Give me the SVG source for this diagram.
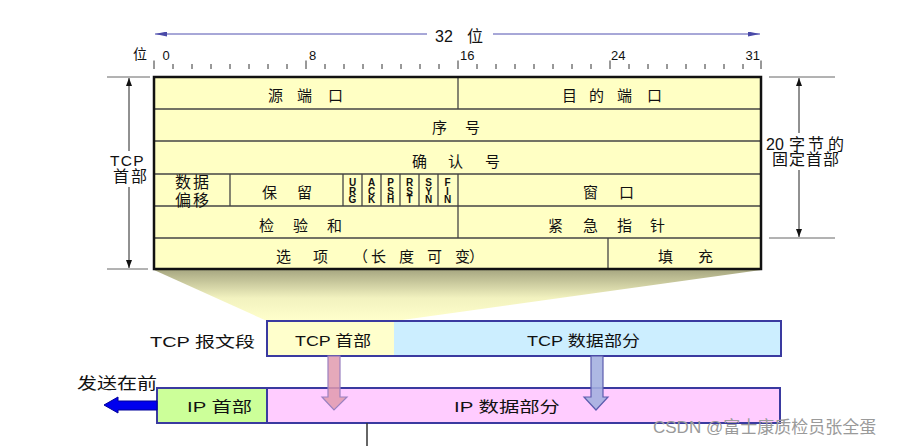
<svg xmlns="http://www.w3.org/2000/svg" width="919" height="446" viewBox="0 0 919 446">
<style>
  .t{font-family:"Liberation Sans","Noto Sans CJK SC",sans-serif;fill:#111}
  .cj{font-family:"Noto Sans CJK SC","Liberation Sans",sans-serif;fill:#111}
  .f15{font-size:15px}
  .f16{font-size:16px}
  .flag{font-family:"Liberation Sans",sans-serif;font-weight:bold;font-size:10px;fill:#111;writing-mode:vertical-rl;text-orientation:upright;letter-spacing:-2.5px}
  .grid{stroke:#444;stroke-width:1.3;fill:none}
  .tick{stroke:#333;stroke-width:1}
  .dim{stroke:#222;stroke-width:1;fill:none}
  .ext{stroke:#666;stroke-width:1}
  .bits{stroke:#5050b0;stroke-width:1;fill:none}
  .bar{stroke:#3a3aa0;stroke-width:2}
</style>
<defs>
  <marker id="ah" viewBox="0 0 8 6" refX="8" refY="3" markerWidth="8" markerHeight="6" markerUnits="userSpaceOnUse" orient="auto"><path d="M0,0 L8,3 L0,6 z" fill="#111"/></marker>
  <marker id="ahb" viewBox="0 0 12 5" refX="12" refY="2.5" markerWidth="12" markerHeight="5" markerUnits="userSpaceOnUse" orient="auto"><path d="M0,0 L12,2.5 L0,5 z" fill="#4a4aa8"/></marker>
  <linearGradient id="fan" x1="0" y1="0" x2="0" y2="1">
    <stop offset="0" stop-color="#a8a882"/>
    <stop offset="0.55" stop-color="#f2f2bf"/>
    <stop offset="1" stop-color="#ffffcc"/>
  </linearGradient>
</defs>

<!-- bit ruler -->
<g id="ruler">
  <line class="bits" x1="427" y1="34" x2="155" y2="34" marker-end="url(#ahb)"/>
  <line class="bits" x1="493" y1="34" x2="760" y2="34" marker-end="url(#ahb)"/>
  <text class="t f16" y="42" x="435 444 453 467">32 位</text>
  <text class="cj" font-size="14" x="133" y="58.5">位</text>
  <g class="tick">
    <line x1="154" y1="60.5" x2="154" y2="69"/><line x1="173" y1="64" x2="173" y2="69"/><line x1="192" y1="64" x2="192" y2="69"/><line x1="211" y1="64" x2="211" y2="69"/>
    <line x1="230" y1="64" x2="230" y2="69"/><line x1="249" y1="64" x2="249" y2="69"/><line x1="268" y1="64" x2="268" y2="69"/><line x1="287" y1="64" x2="287" y2="69"/>
    <line x1="306" y1="60.5" x2="306" y2="69"/><line x1="325" y1="64" x2="325" y2="69"/><line x1="344" y1="64" x2="344" y2="69"/><line x1="363" y1="64" x2="363" y2="69"/>
    <line x1="382" y1="64" x2="382" y2="69"/><line x1="401" y1="64" x2="401" y2="69"/><line x1="420" y1="64" x2="420" y2="69"/><line x1="439" y1="64" x2="439" y2="69"/>
    <line x1="458" y1="60.5" x2="458" y2="69"/><line x1="477" y1="64" x2="477" y2="69"/><line x1="496" y1="64" x2="496" y2="69"/><line x1="515" y1="64" x2="515" y2="69"/>
    <line x1="534" y1="64" x2="534" y2="69"/><line x1="553" y1="64" x2="553" y2="69"/><line x1="572" y1="64" x2="572" y2="69"/><line x1="591" y1="64" x2="591" y2="69"/>
    <line x1="610" y1="60.5" x2="610" y2="69"/><line x1="629" y1="64" x2="629" y2="69"/><line x1="648" y1="64" x2="648" y2="69"/><line x1="667" y1="64" x2="667" y2="69"/>
    <line x1="686" y1="64" x2="686" y2="69"/><line x1="705" y1="64" x2="705" y2="69"/><line x1="724" y1="64" x2="724" y2="69"/><line x1="743" y1="64" x2="743" y2="69"/>
    <line x1="761" y1="60.5" x2="761" y2="69"/>
  </g>
  <g class="t" font-size="13">
    <text x="162.5" y="59.5">0</text>
    <text x="309" y="59.5">8</text>
    <text x="460" y="59.5">16</text>
    <text x="611" y="59.5">24</text>
    <text x="745.5" y="59.5">31</text>
  </g>
</g>

<!-- fan -->
<polygon id="fan-shape" points="154,270 761,270 395,321 267,321" fill="url(#fan)"/>

<!-- TCP header table -->
<g id="tcp-header">
  <rect x="154" y="77" width="607" height="192" fill="#ffffc4"/>
  <g class="grid">
    <line x1="154" y1="109" x2="761" y2="109"/>
    <line x1="154" y1="141" x2="761" y2="141"/>
    <line x1="154" y1="174" x2="761" y2="174"/>
    <line x1="154" y1="206" x2="761" y2="206"/>
    <line x1="154" y1="238" x2="761" y2="238"/>
    <line x1="458" y1="77" x2="458" y2="109"/>
    <line x1="230" y1="174" x2="230" y2="206"/>
    <line x1="343" y1="174" x2="343" y2="206"/>
    <line x1="362" y1="174" x2="362" y2="206"/>
    <line x1="381" y1="174" x2="381" y2="206"/>
    <line x1="400" y1="174" x2="400" y2="206"/>
    <line x1="419" y1="174" x2="419" y2="206"/>
    <line x1="438" y1="174" x2="438" y2="206"/>
    <line x1="458" y1="174" x2="458" y2="238"/>
    <line x1="608" y1="238" x2="608" y2="269"/>
  </g>
  <rect x="154" y="77" width="607" height="192" fill="none" stroke="#111" stroke-width="2.5"/>
  <g id="f-srcport"><text class="cj f15" y="100.7" x="268 283 297 312 328">源 端 口</text></g>
  <g id="f-dstport"><text class="cj f15" y="100.7" x="562 576 589 603 617 632 647">目 的 端 口</text></g>
  <g id="f-seq"><text class="cj f15" y="132.7" x="432 448 465">序 号</text></g>
  <g id="f-ack"><text class="cj f15" y="166.7" x="412 430 448 466 485">确 认 号</text></g>
  <g id="f-offset">
    <text class="cj f16"><tspan y="188" x="175 193">数据</tspan><tspan y="205.5" x="175 193">偏移</tspan></text>
  </g>
  <g id="f-reserved"><text class="cj f15" y="197.7" x="262 280 297">保 留</text></g>
  <g id="f-flags">
    <text class="flag" x="352.5" y="177">URG</text>
    <text class="flag" x="371.5" y="177">ACK</text>
    <text class="flag" x="390.5" y="177">PSH</text>
    <text class="flag" x="409.5" y="177">RST</text>
    <text class="flag" x="428.5" y="177">SYN</text>
    <text class="flag" x="447.5" y="177">FIN</text>
  </g>
  <g id="f-window"><text class="cj f15" y="197.7" x="583 601 619">窗 口</text></g>
  <g id="f-checksum"><text class="cj f15" y="230.7" x="259 276 293 310 327">检 验 和</text></g>
  <g id="f-urgent"><text class="cj f15" y="230.7" x="548 566 583 600 617 633 650">紧 急 指 针</text></g>
  <g id="f-options"><text class="cj f15" y="261.7" x="276 295 313 335 353 371 385 399 413 427 441 455 469">选 项 （长 度 可 变）</text></g>
  <g id="f-padding"><text class="cj f15" y="261.7" x="658 678 698">填 充</text></g>
</g>

<!-- dimension: TCP header -->
<g id="dim-left">
  <line class="ext" x1="107" y1="77" x2="150" y2="77"/>
  <line class="ext" x1="107" y1="269" x2="148" y2="269"/>
  <line class="dim" x1="129" y1="151" x2="129" y2="78" marker-end="url(#ah)"/>
  <line class="dim" x1="129" y1="187" x2="129" y2="268" marker-end="url(#ah)"/>
  <text class="t"><tspan x="110" y="166" font-size="15.5" letter-spacing="1.3">TCP</tspan><tspan x="113 131" y="182" font-size="16">首部</tspan></text>
</g>

<!-- dimension: 20 bytes -->
<g id="dim-right">
  <line class="ext" x1="769" y1="77" x2="835" y2="77"/>
  <line class="ext" x1="769" y1="238" x2="835" y2="238"/>
  <line class="dim" x1="799" y1="133" x2="799" y2="78" marker-end="url(#ah)"/>
  <line class="dim" x1="799" y1="170" x2="799" y2="237" marker-end="url(#ah)"/>
  <text class="t f16"><tspan y="149.5" x="766 775 784 789 808 828">20 字节的</tspan><tspan y="164.5" x="772 789 806 823">固定首部</tspan></text>
</g>

<!-- TCP segment -->
<g id="tcp-segment">
  <text class="t f15" x="150" y="346.5" textLength="105" lengthAdjust="spacingAndGlyphs">TCP 报文段</text>
  <rect x="267" y="321" width="127" height="35" fill="#ffffcc"/>
  <rect x="394" y="321" width="387" height="35" fill="#cceeff"/>
  <rect x="267" y="321" width="514" height="35" fill="none" class="bar"/>
  <text class="t f15" x="295" y="345.5" textLength="76" lengthAdjust="spacingAndGlyphs">TCP 首部</text>
  <text class="t f15" x="527" y="345.5" textLength="113" lengthAdjust="spacingAndGlyphs">TCP 数据部分</text>
</g>

<!-- IP datagram -->
<g id="ip-datagram">
  <rect x="157" y="388" width="110" height="35" fill="#ccff99"/>
  <rect x="267" y="388" width="513" height="35" fill="#ffccff"/>
  <line x1="267" y1="388" x2="267" y2="423" class="bar"/>
  <rect x="157" y="388" width="623" height="35" fill="none" class="bar"/>
  <text class="t f15" x="187" y="411.5" textLength="65" lengthAdjust="spacingAndGlyphs">IP 首部</text>
  <text class="t f15" x="454" y="411.5" textLength="106" lengthAdjust="spacingAndGlyphs">IP 数据部分</text>
  <text class="cj f16" x="77" y="388.6" textLength="80" lengthAdjust="spacingAndGlyphs">发送在前</text>
</g>

<!-- connectors -->
<g id="connectors">
  <polygon points="328,356 340,356 340,397 347,397 334,410 322,397 328,397" fill="#e09aae" fill-opacity="0.85" stroke="#9a80c0" stroke-width="1.2"/>
  <polygon points="591,356 603,356 603,397 608,397 596,410 584,397 591,397" fill="#a4b0e0" fill-opacity="0.9" stroke="#5c5cae" stroke-width="1.2"/>
  <polygon points="157,401 118,401 118,397 104,405 118,413 118,410 157,410" fill="#0000ee" stroke="#000099" stroke-width="1"/>
  <line x1="367" y1="423" x2="367" y2="446" stroke="#333" stroke-width="1.5"/>
</g>

<text class="t" font-size="17" x="653" y="433" style="fill:#9a9a9a">CSDN @富士康质检员张全蛋</text>
</svg>
